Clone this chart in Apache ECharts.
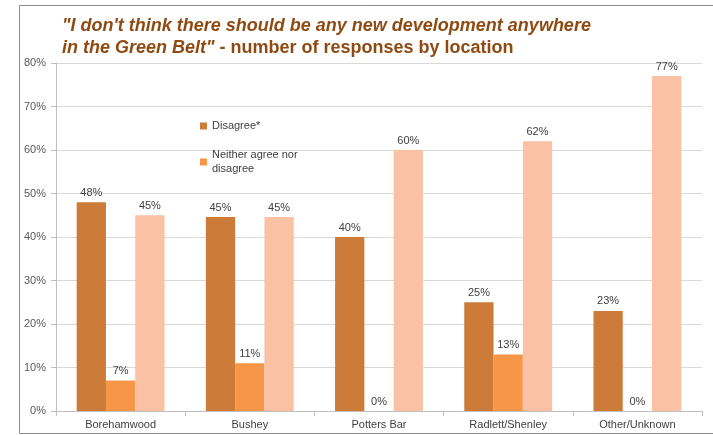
<!DOCTYPE html>
<html>
<head>
<meta charset="utf-8">
<script src="https://cdn.jsdelivr.net/npm/echarts@6/dist/echarts.min.js"></script>
<style>
html, body { margin: 0; padding: 0; background: #fff; }
#chart { width: 713px; height: 435px; }
</style>
</head>
<body>
<div id="chart"></div>
<script>
var locations = ['Borehamwood', 'Bushey', 'Potters Bar', 'Radlett/Shenley', 'Other/Unknown'];
var disagree = [48, 44.6, 40, 25, 23];
var neither = [7, 11, 0, 13, 0];
var agree = [45, 44.6, 60, 62, 77];
var yTicks = [0, 10, 20, 30, 40, 50, 60, 70, 80];

var labelOpt = {
    show: true,
    position: 'top',
    distance: 4,
    color: '#404040',
    fontFamily: 'Liberation Sans',
    fontSize: 11,
    formatter: function (p) { return Math.round(p.value) + '%'; }
};

var option = {
    backgroundColor: '#fff',
    animation: false,
    title: {
        left: 57,
        top: 10,
        text: '{i|"I don\'t think there should be any new development anywhere}\n{i|in the Green Belt"}{b| - number of responses by location}',
        textStyle: {
            rich: {
                i: { fontFamily: 'Liberation Sans', fontSize: 18, fontWeight: 'bold', fontStyle: 'italic', color: '#8f4a12', lineHeight: 22 },
                b: { fontFamily: 'Liberation Sans', fontSize: 18, fontWeight: 'bold', color: '#8f4a12', lineHeight: 22 }
            }
        }
    },
    legend: {
        orient: 'vertical',
        left: 195,
        top: 114,
        itemWidth: 7,
        itemHeight: 7,
        itemGap: 15,
        icon: 'rect',
        data: ['Disagree*', 'Neither agree nor disagree'],
        formatter: function (n) { return n === 'Neither agree nor disagree' ? 'Neither agree nor\ndisagree' : n; },
        textStyle: { fontFamily: 'Liberation Sans', fontSize: 11, color: '#404040', lineHeight: 14 }
    },
    grid: { left: 56, right: 11, top: 63, bottom: 24 },
    xAxis: {
        type: 'category',
        data: locations,
        axisLine: { lineStyle: { color: '#bfbfbf' } },
        axisTick: { show: true, alignWithLabel: false, length: 5, lineStyle: { color: '#bfbfbf' } },
        axisLabel: { color: '#404040', fontFamily: 'Liberation Sans', fontSize: 11, margin: 8 }
    },
    yAxis: {
        type: 'value',
        min: 0,
        max: 80,
        interval: 10,
        axisLine: { show: true, lineStyle: { color: '#bfbfbf' } },
        axisTick: { show: true, length: 5, lineStyle: { color: '#bfbfbf' } },
        splitLine: { lineStyle: { color: '#d9d9d9' } },
        axisLabel: { color: '#595959', fontFamily: 'Liberation Sans', fontSize: 11, margin: 10, formatter: '{value}%' }
    },
    graphic: [{
        type: 'rect',
        shape: { x: 19.5, y: 5.5, width: 720, height: 428 },
        style: { fill: 'none', stroke: '#8c8c8c', lineWidth: 1 },
        silent: true
    }],
    series: [
        {
            name: 'Disagree*',
            type: 'bar',
            data: disagree,
            barGap: '0%',
            barCategoryGap: '32%',
            itemStyle: { color: '#cd7b39' },
            label: labelOpt
        },
        {
            name: 'Neither agree nor disagree',
            type: 'bar',
            data: neither,
            itemStyle: { color: '#f79646' },
            label: labelOpt
        },
        {
            name: 'Agree',
            type: 'bar',
            data: agree,
            itemStyle: { color: '#fac1a5' },
            label: labelOpt
        }
    ]
};

var chart = echarts.init(document.getElementById('chart'), null, { renderer: 'canvas' });
chart.setOption(option);
</script>
</body>
</html>
